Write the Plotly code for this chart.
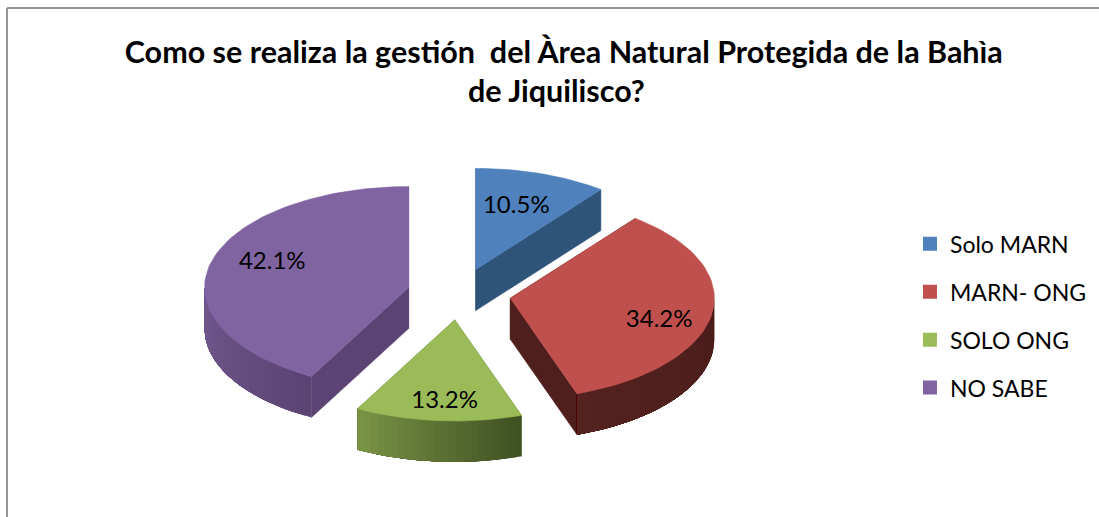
import math
import plotly.graph_objects as go

TITLE_LINE_1 = "Como se realiza la gestión  del Àrea Natural Protegida de la Bahìa"
TITLE_LINE_2 = "de Jiquilisco?"
CATEGORIES = ["Solo MARN", "MARN- ONG", "SOLO ONG", "NO SABE"]
VALUES = [10.5, 34.2, 13.2, 42.1]

TOP_COLORS = ["#4F81BD", "#C0504D", "#9BBB59", "#8064A2"]
CUT_COLORS = ["#2F5479", "#4E1F1C", "#5F7A35", "#5B4473"]
WALL_LEFT = ["#2F5479", "#54221F", "#7A9546", "#72598F"]
WALL_RIGHT = ["#2F5479", "#4A1D1A", "#3F4F22", "#5B4473"]
LABEL_RADIUS = [0.645, 0.763, 0.818, 0.71]
LABEL_TURN = [-1.0, 7.6, -1.2, 5.5]

CX, CY = 459, 294
RX, RY = 204, 101
EX, EY = 52, 26
DEPTH = 41


def rgb(h):
    return [int(h[i:i + 2], 16) for i in (1, 3, 5)]


def mix(a, b, t):
    ca, cb = rgb(a), rgb(b)
    return "rgb(%d,%d,%d)" % tuple(round(x + (y - x) * t) for x, y in zip(ca, cb))


def pt(ax, ay, deg, r=1.0):
    t = math.radians(deg)
    return ax + RX * r * math.sin(t), ay - RY * r * math.cos(t)


fig = go.Figure()
total = sum(VALUES)
start = 0.0
slices = []
for i, v in enumerate(VALUES):
    sweep = 360 * v / total
    end = start + sweep
    mid = (start + end) / 2
    ax = CX + EX * math.sin(math.radians(mid))
    ay = CY - EY * math.cos(math.radians(mid))
    slices.append((i, start, end, mid, ax, ay))
    start = end


def poly(xs, ys, color, width=0.6):
    fig.add_trace(go.Scatter(x=xs, y=ys, mode="lines", fill="toself", fillcolor=color,
                             line=dict(color=color, width=width), hoverinfo="skip", showlegend=False))


for i, a0, a1, mid, ax, ay in slices:
    # flat cut faces
    for edge in (a0, a1):
        ex, ey = pt(ax, ay, edge)
        poly([ax, ex, ex, ax, ax], [ay, ey, ey + DEPTH, ay + DEPTH, ay], CUT_COLORS[i])
    # outer wall, visible on the front half only; each strip runs under the next
    lo, hi = max(a0, 90), min(a1, 270)
    if hi > lo:
        n = max(2, int((hi - lo) / 2))
        for k in range(n):
            d0 = lo + (hi - lo) * k / n
            steps = [d0 + (hi - d0) * j / 24 for j in range(25)]
            top = [pt(ax, ay, d) for d in steps]
            xs = [p[0] for p in top] + [p[0] for p in reversed(top)] + [top[0][0]]
            ys = [p[1] for p in top] + [p[1] + DEPTH for p in reversed(top)] + [top[0][1]]
            poly(xs, ys, mix(WALL_RIGHT[i], WALL_LEFT[i], (k + 0.5) / n), width=0)
    # top face
    m = max(8, int((a1 - a0) / 2))
    pts = [pt(ax, ay, a0 + (a1 - a0) * k / m) for k in range(m + 1)]
    poly([ax] + [p[0] for p in pts] + [ax], [ay] + [p[1] for p in pts] + [ay], TOP_COLORS[i])

# percentage labels
lx, ly, lt = [], [], []
for i, a0, a1, mid, ax, ay in slices:
    x, y = pt(ax, ay, mid + LABEL_TURN[i], LABEL_RADIUS[i])
    lx.append(x)
    ly.append(y)
    lt.append(f"{VALUES[i]:.1f}%")
fig.add_trace(go.Scatter(x=lx, y=ly, text=lt, mode="text", textposition="middle center",
                         textfont=dict(family="Lato", size=24, color="#000000"),
                         hoverinfo="skip", showlegend=False))

# legend entries
for i, name in enumerate(CATEGORIES):
    fig.add_trace(go.Scatter(x=[None], y=[None], mode="markers", name=name, legendgroup=name,
                             marker=dict(symbol="square", size=14, color=TOP_COLORS[i])))

TITLE_FONT = dict(family="Lato", size=30.5, color="#000000", weight="bold")
fig.update_layout(
    width=1099, height=517, margin=dict(l=0, r=0, t=0, b=0),
    paper_bgcolor="white", plot_bgcolor="white",
    title=dict(text=TITLE_LINE_1, x=0.513, xanchor="center", y=0.899, yanchor="middle", font=TITLE_FONT),
    annotations=[dict(text=TITLE_LINE_2, xref="paper", yref="paper", x=556 / 1099, y=1 - 90 / 517,
                      xanchor="center", yanchor="middle", showarrow=False, font=TITLE_FONT)],
    xaxis=dict(range=[0, 1099], visible=False, fixedrange=True),
    yaxis=dict(range=[517, 0], visible=False, fixedrange=True),
    legend=dict(x=0.828, y=0.389, xanchor="left", yanchor="middle", traceorder="grouped",
                tracegroupgap=15, font=dict(family="Lato", size=23, color="#000000"),
                bgcolor="rgba(0,0,0,0)"),
    shapes=[dict(type="line", xref="paper", yref="paper", x0=7 / 1099, x1=7 / 1099, y0=0, y1=1 - 8 / 517,
                 line=dict(color="#969696", width=2)),
            dict(type="line", xref="paper", yref="paper", x0=7 / 1099, x1=1, y0=1 - 8 / 517, y1=1 - 8 / 517,
                 line=dict(color="#969696", width=2))],
)
fig.write_html("out.html", config={"displayModeBar": False},
               post_script="document.body.style.margin='0';document.body.style.overflow='hidden';")
